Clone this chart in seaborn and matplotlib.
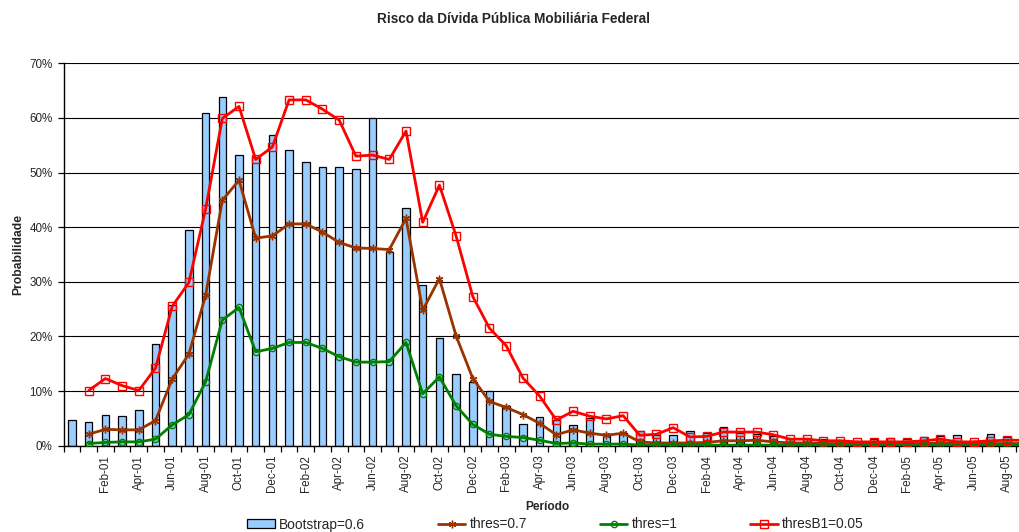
import numpy as np
import pandas as pd
import matplotlib
matplotlib.use("Agg")
import matplotlib.pyplot as plt
from matplotlib.ticker import FixedLocator, FixedFormatter
import seaborn as sns

nan = np.nan

# Monthly periods, Dec-00 .. Sep-05 (first category carries no label)
periods = ["", "Jan-01", "Feb-01", "Mar-01", "Apr-01", "May-01", "Jun-01", "Jul-01",
           "Aug-01", "Sep-01", "Oct-01", "Nov-01", "Dec-01", "Jan-02", "Feb-02",
           "Mar-02", "Apr-02", "May-02", "Jun-02", "Jul-02", "Aug-02", "Sep-02",
           "Oct-02", "Nov-02", "Dec-02", "Jan-03", "Feb-03", "Mar-03", "Apr-03",
           "May-03", "Jun-03", "Jul-03", "Aug-03", "Sep-03", "Oct-03", "Nov-03",
           "Dec-03", "Jan-04", "Feb-04", "Mar-04", "Apr-04", "May-04", "Jun-04",
           "Jul-04", "Aug-04", "Sep-04", "Oct-04", "Nov-04", "Dec-04", "Jan-05",
           "Feb-05", "Mar-05", "Apr-05", "May-05", "Jun-05", "Jul-05", "Aug-05",
           "Sep-05"]

# Probabilities in percent
bootstrap = [4.7, 4.3, 5.6, 5.5, 6.5, 18.6, 25.8, 39.5, 60.9, 63.9, 53.3, 52.8,
             56.9, 54.2, 52.0, 51.0, 51.1, 50.7, 60.0, 35.4, 43.6, 29.4, 19.7,
             13.1, 11.7, 10.1, 7.3, 3.9, 5.3, 4.7, 3.8, 5.0, 2.2, 2.3, 2.6, 2.0,
             2.0, 2.6, 2.3, 3.5, 2.3, 2.2, 1.7, 1.3, 1.4, 1.2, 1.1, 0.7, 1.3, 1.5,
             1.2, 1.6, 1.8, 2.0, 0.9, 2.2, 1.6, 1.4]

thres_07 = [nan, 2.1, 3.0, 2.9, 2.9, 4.6, 12.2, 16.8, 27.5, 44.9, 48.6, 38.0,
            38.4, 40.6, 40.6, 39.1, 37.2, 36.2, 36.1, 35.9, 41.6, 24.8, 30.6,
            20.1, 12.3, 8.1, 7.0, 5.7, 4.1, 2.0, 2.9, 2.3, 1.9, 2.3, 0.7, 0.5,
            0.5, 0.5, 0.6, 0.9, 0.9, 1.0, 0.7, 0.5, 0.5, 0.4, 0.4, 0.4, 0.4, 0.4,
            0.4, 0.4, 0.5, 0.4, 0.4, 0.4, 0.4, 0.4]

thres_1 = [nan, 0.4, 0.6, 0.7, 0.7, 1.2, 3.8, 5.7, 11.7, 23.0, 25.3, 17.2,
           17.8, 18.9, 18.9, 17.8, 16.3, 15.3, 15.3, 15.4, 18.9, 9.5, 12.6, 7.3,
           3.9, 2.1, 1.7, 1.5, 1.0, 0.4, 0.5, 0.3, 0.3, 0.3, 0.1, 0.1, 0.1, 0.1,
           0.1, 0.1, 0.1, 0.1, 0.1, 0.1, 0.1, 0.1, 0.1, 0.1, 0.1, 0.1, 0.1, 0.1,
           0.1, 0.1, 0.1, 0.1, 0.1, 0.1]

thres_b1 = [nan, 10.1, 12.3, 11.0, 10.1, 14.2, 25.5, 29.9, 43.3, 59.9, 62.1,
            52.4, 54.7, 63.3, 63.3, 61.6, 59.6, 53.0, 53.2, 52.4, 57.6, 40.9,
            47.7, 38.4, 27.3, 21.5, 18.3, 12.4, 9.1, 4.7, 6.3, 5.4, 4.9, 5.5,
            1.9, 2.1, 3.3, 1.6, 1.7, 2.5, 2.5, 2.5, 2.0, 1.2, 1.2, 0.9, 0.9, 0.7,
            0.7, 0.7, 0.7, 0.9, 1.2, 0.7, 0.7, 0.9, 1.0, 1.0]

df = pd.DataFrame({
    "pos": np.arange(len(periods)),
    "bootstrap": bootstrap,
    "thres_07": thres_07,
    "thres_1": thres_1,
    "thres_b1": thres_b1,
})

sns.set_style("white")
plt.rcParams["font.family"] = ["Liberation Sans", "DejaVu Sans"]

W, H = 1019, 532
fig = plt.figure(figsize=(W / 100, H / 100), dpi=100)
# plot area runs slightly past the right edge of the canvas
ax = fig.add_axes([63.65 / W, 1 - 445.7 / H, 968.6 / W, (445.7 - 63.3) / H])

sns.barplot(data=df, x="pos", y="bootstrap", color="#99CCFF", saturation=1,
            edgecolor="black", linewidth=0.9, width=0.45, errorbar=None,
            label="Bootstrap=0.6", ax=ax, zorder=2)

line_kw = dict(linewidth=2.0, markersize=5.5, markerfacecolor="none",
               markeredgewidth=1.0, ax=ax, zorder=3)
sns.lineplot(data=df, x="pos", y="thres_07", color="#993300", marker=(6, 2, 0),
             markeredgecolor="#993300", label="thres=0.7", **line_kw)
sns.lineplot(data=df, x="pos", y="thres_1", color="#008000", marker="o",
             markeredgecolor="#008000", label="thres=1",
             **{**line_kw, "markersize": 4.5})
sns.lineplot(data=df, x="pos", y="thres_b1", color="#FF0000", marker="s",
             markeredgecolor="#FF0000", label="thresB1=0.05", **line_kw)

ax.set_xlim(-0.5, len(periods) - 0.5)
ax.set_ylim(0, 70)
ax.set_xlabel("")
ax.set_ylabel("")

# y axis: percent ticks with horizontal gridlines
yt = np.arange(0, 71, 10)
ax.yaxis.set_major_locator(FixedLocator(yt))
ax.yaxis.set_major_formatter(FixedFormatter([f"{v}%" for v in yt]))
ax.yaxis.grid(True, color="black", linewidth=0.8)
ax.xaxis.grid(False)
ax.set_axisbelow(True)
ax.tick_params(axis="y", which="major", direction="out", length=4, width=0.9,
               color="black", pad=4, labelsize=8.4, left=True)

# x axis: ticks between categories, labels on every other month
n = len(periods)
ax.xaxis.set_major_locator(FixedLocator(np.arange(n + 1) - 0.5))
ax.xaxis.set_major_formatter(FixedFormatter([""] * (n + 1)))
lab_pos = np.arange(0, n, 2)
ax.xaxis.set_minor_locator(FixedLocator(lab_pos))
ax.xaxis.set_minor_formatter(FixedFormatter([periods[i] for i in lab_pos]))
ax.tick_params(axis="x", which="major", direction="out", length=4, width=0.9,
               color="black", bottom=True)
ax.tick_params(axis="x", which="minor", length=0, pad=6.5, labelsize=8.4,
               labelrotation=90, bottom=True)

for side in ("top", "right"):
    ax.spines[side].set_visible(False)
for side in ("left", "bottom"):
    ax.spines[side].set_color("black")
    ax.spines[side].set_linewidth(1.0)

handles, labels = ax.get_legend_handles_labels()
if ax.get_legend() is not None:
    ax.get_legend().remove()
order = ["Bootstrap=0.6", "thres=0.7", "thres=1", "thresB1=0.05"]
hmap = dict(zip(labels, handles))
fig.legend([hmap[k] for k in order], order, loc="center",
           bbox_to_anchor=((249 + 862) / 2 / W, 1 - 524.5 / H), ncol=4,
           frameon=False, fontsize=9.9, borderpad=0, handlelength=2.0,
           handletextpad=0.3, columnspacing=5.3, handleheight=0.6)

fig.text(513.5 / W, 1 - 19 / H, "Risco da Dívida Pública Mobiliária Federal",
         ha="center", va="center", fontsize=9.8, fontweight="bold")
fig.text(18 / W, 1 - 254.5 / H, "Probabilidade", rotation=90, ha="center",
         va="center", fontsize=8.7, fontweight="bold")
fig.text(547 / W, 1 - 507 / H, "Período", ha="center", va="center",
         fontsize=8.6, fontweight="bold")

fig.savefig("out.png", dpi=100, facecolor="white")
